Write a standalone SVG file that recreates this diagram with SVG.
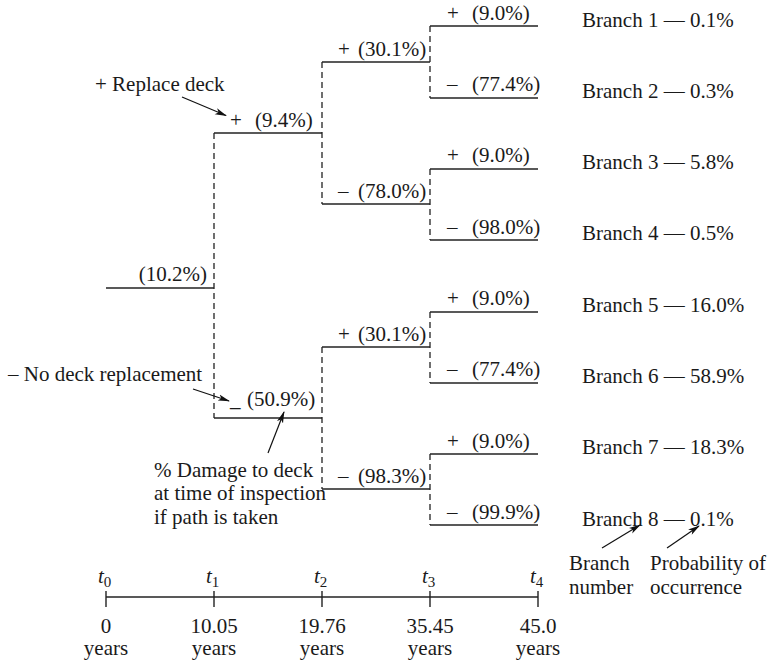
<svg xmlns="http://www.w3.org/2000/svg" width="772" height="665" viewBox="0 0 772 665">
<style>
text{font-family:"Liberation Serif","Times New Roman",serif;font-size:21px;fill:#1a1a1a}
.h{stroke:#222;stroke-width:1.4;fill:none}
.d{stroke:#222;stroke-width:1.3;fill:none;stroke-dasharray:6,4}
.a{stroke:#111;stroke-width:1.2;fill:none;marker-end:url(#ah)}
.sub{font-size:15px}
.it{font-style:italic}
</style>
<defs>
<marker id="ah" viewBox="0 0 12 8" refX="11" refY="4" markerWidth="12" markerHeight="8" markerUnits="userSpaceOnUse" orient="auto">
<path d="M0,0.8 L12,4 L0,7.2 L3,4 Z" fill="#111"/>
</marker>
</defs>
<rect width="772" height="665" fill="#fff"/>

<g id="connectors">
<!-- root -->
<line class="h" x1="106" y1="288" x2="214" y2="288"/>
<line class="d" x1="214" y1="133" x2="214" y2="418"/>
<!-- t1 branches -->
<line class="h" x1="214" y1="133" x2="322" y2="133"/>
<line class="h" x1="214" y1="418" x2="322" y2="418"/>
<line class="d" x1="322" y1="62" x2="322" y2="204"/>
<line class="d" x1="322" y1="347" x2="322" y2="489"/>
<!-- t2 branches -->
<line class="h" x1="322" y1="62" x2="430" y2="62"/>
<line class="h" x1="322" y1="204" x2="430" y2="204"/>
<line class="h" x1="322" y1="347" x2="430" y2="347"/>
<line class="h" x1="322" y1="489" x2="430" y2="489"/>
<line class="d" x1="430" y1="26" x2="430" y2="98"/>
<line class="d" x1="430" y1="169" x2="430" y2="240"/>
<line class="d" x1="430" y1="312" x2="430" y2="383"/>
<line class="d" x1="430" y1="454" x2="430" y2="525"/>
<!-- t3 branches -->
<line class="h" x1="430" y1="26" x2="538" y2="26"/>
<line class="h" x1="430" y1="98" x2="538" y2="98"/>
<line class="h" x1="430" y1="169" x2="538" y2="169"/>
<line class="h" x1="430" y1="240" x2="538" y2="240"/>
<line class="h" x1="430" y1="312" x2="538" y2="312"/>
<line class="h" x1="430" y1="383" x2="538" y2="383"/>
<line class="h" x1="430" y1="454" x2="538" y2="454"/>
<line class="h" x1="430" y1="525" x2="538" y2="525"/>
<!-- annotation arrows -->
<line class="a" x1="182" y1="97" x2="226" y2="115.5"/>
<line class="a" x1="193" y1="389" x2="229" y2="401"/>
<line class="a" x1="268" y1="453" x2="284" y2="412"/>
<line class="a" x1="602" y1="548" x2="640" y2="525"/>
<line class="a" x1="667" y1="548" x2="699" y2="526"/>
</g>

<g id="root"><text x="207" y="281" text-anchor="end">(10.2%)</text></g>
<g id="n-plus-t1"><text x="230" y="127">+</text><text x="255" y="127">(9.4%)</text></g>
<g id="n-minus-t1"><text x="230" y="406">_</text><text x="247" y="406">(50.9%)</text></g>

<g id="n-a"><text x="338" y="56">+</text><text x="358" y="56">(30.1%)</text></g>
<g id="n-b"><text x="338" y="198">–</text><text x="358" y="198">(78.0%)</text></g>
<g id="n-c"><text x="338" y="341">+</text><text x="358" y="341">(30.1%)</text></g>
<g id="n-d"><text x="338" y="483">–</text><text x="358" y="483">(98.3%)</text></g>

<g id="b1"><text x="447" y="20">+</text><text x="472" y="20">(9.0%)</text><text x="582" y="27">Branch 1 — 0.1%</text></g>
<g id="b2"><text x="447" y="91">–</text><text x="472" y="91">(77.4%)</text><text x="582" y="98">Branch 2 — 0.3%</text></g>
<g id="b3"><text x="447" y="162">+</text><text x="472" y="162">(9.0%)</text><text x="582" y="169">Branch 3 — 5.8%</text></g>
<g id="b4"><text x="447" y="234">–</text><text x="472" y="234">(98.0%)</text><text x="582" y="240">Branch 4 — 0.5%</text></g>
<g id="b5"><text x="447" y="305">+</text><text x="472" y="305">(9.0%)</text><text x="582" y="312">Branch 5 — 16.0%</text></g>
<g id="b6"><text x="447" y="376">–</text><text x="472" y="376">(77.4%)</text><text x="582" y="383">Branch 6 — 58.9%</text></g>
<g id="b7"><text x="447" y="448">+</text><text x="472" y="448">(9.0%)</text><text x="582" y="454">Branch 7 — 18.3%</text></g>
<g id="b8"><text x="447" y="519">–</text><text x="472" y="519">(99.9%)</text><text x="582" y="526">Branch 8 — 0.1%</text></g>

<g id="notes">
<text x="95" y="91">+ Replace deck</text>
<text x="8" y="381">– No deck replacement</text>
<text x="154" y="477">% Damage to deck</text>
<text x="154" y="500">at time of inspection</text>
<text x="154" y="524">if path is taken</text>
<text x="569" y="570">Branch</text>
<text x="569" y="594">number</text>
<text x="650" y="570">Probability of</text>
<text x="650" y="594">occurrence</text>
</g>

<g id="timeline">
<line class="h" x1="106" y1="597" x2="538" y2="597"/>
<line class="h" x1="106" y1="591" x2="106" y2="607"/>
<line class="h" x1="214" y1="591" x2="214" y2="607"/>
<line class="h" x1="322" y1="591" x2="322" y2="607"/>
<line class="h" x1="430" y1="591" x2="430" y2="607"/>
<line class="h" x1="538" y1="591" x2="538" y2="607"/>
<text x="98" y="583"><tspan class="it">t</tspan><tspan class="sub" dy="4">0</tspan></text>
<text x="206" y="583"><tspan class="it">t</tspan><tspan class="sub" dy="4">1</tspan></text>
<text x="314" y="583"><tspan class="it">t</tspan><tspan class="sub" dy="4">2</tspan></text>
<text x="422" y="583"><tspan class="it">t</tspan><tspan class="sub" dy="4">3</tspan></text>
<text x="530" y="583"><tspan class="it">t</tspan><tspan class="sub" dy="4">4</tspan></text>
<g text-anchor="middle">
<text x="106" y="633">0</text><text x="106" y="655">years</text>
<text x="214" y="633">10.05</text><text x="214" y="655">years</text>
<text x="322" y="633">19.76</text><text x="322" y="655">years</text>
<text x="430" y="633">35.45</text><text x="430" y="655">years</text>
<text x="538" y="633">45.0</text><text x="538" y="655">years</text>
</g>
</g>
</svg>
